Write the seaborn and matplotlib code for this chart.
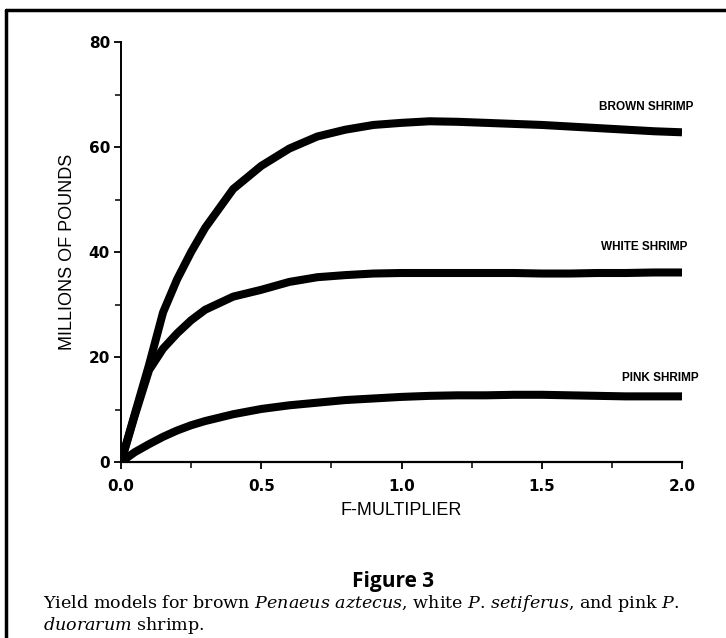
import numpy as np
import pandas as pd
import matplotlib
matplotlib.use("Agg")
import matplotlib.pyplot as plt
from matplotlib.lines import Line2D
from matplotlib.ticker import MultipleLocator, FormatStrFormatter
import seaborn as sns

# F-multiplier and yields (millions of pounds)
f_mult = [0.0, 0.05, 0.1, 0.15, 0.2, 0.25, 0.3, 0.4, 0.5, 0.6, 0.7, 0.8,
          0.9, 1.0, 1.1, 1.2, 1.3, 1.4, 1.5, 1.6, 1.7, 1.8, 1.9, 2.0]
brown = [0.0, 9.3, 18.5, 28.5, 34.8, 40.0, 44.6, 52.0, 56.4, 59.7, 62.0, 63.3,
         64.2, 64.6, 64.9, 64.8, 64.6, 64.4, 64.2, 63.9, 63.6, 63.3, 63.0, 62.8]
white = [0.0, 9.0, 17.5, 21.6, 24.5, 27.0, 29.0, 31.5, 32.8, 34.3, 35.2, 35.6,
         35.9, 36.0, 36.0, 36.0, 36.0, 36.0, 35.9, 35.9, 36.0, 36.0, 36.1, 36.1]
pink = [0.0, 1.9, 3.4, 4.8, 6.0, 7.0, 7.8, 9.1, 10.1, 10.8, 11.3, 11.8,
        12.1, 12.4, 12.6, 12.7, 12.7, 12.8, 12.8, 12.7, 12.6, 12.5, 12.5, 12.5]

labels = ["BROWN SHRIMP", "WHITE SHRIMP", "PINK SHRIMP"]

sns.set_style("ticks")
plt.rcParams["font.family"] = ["Liberation Sans", "DejaVu Sans"]
plt.rcParams["text.color"] = "black"
plt.rcParams["axes.labelcolor"] = "black"
plt.rcParams["xtick.color"] = "black"
plt.rcParams["ytick.color"] = "black"
plt.rcParams["axes.edgecolor"] = "black"
plt.rcParams["mathtext.fontset"] = "custom"
plt.rcParams["mathtext.rm"] = "DejaVu Serif"
plt.rcParams["mathtext.it"] = "DejaVu Serif:italic"

fig = plt.figure(figsize=(7.26, 6.38), dpi=100)
ax = fig.add_axes([121 / 726, 1 - 462 / 638, (682 - 121) / 726, (462 - 42) / 638])

df = pd.DataFrame({"F": f_mult, "brown": brown, "white": white, "pink": pink})
for col in ["brown", "white", "pink"]:
    sns.lineplot(data=df, x="F", y=col, ax=ax, color="black", linewidth=5.8,
                 solid_capstyle="butt", solid_joinstyle="round")

# curve labels
ax.text(2.04, 67.6, labels[0], ha="right", va="center", fontsize=8.5, fontweight="bold")
ax.text(2.02, 41.0, labels[1], ha="right", va="center", fontsize=8.5, fontweight="bold")
ax.text(2.06, 16.0, labels[2], ha="right", va="center", fontsize=8.5, fontweight="bold")

ax.set_xlim(0, 2.0)
ax.set_ylim(0, 80)
ax.xaxis.set_major_locator(MultipleLocator(0.5))
ax.xaxis.set_minor_locator(MultipleLocator(0.25))
ax.yaxis.set_major_locator(MultipleLocator(20))
ax.yaxis.set_minor_locator(MultipleLocator(10))
ax.xaxis.set_major_formatter(FormatStrFormatter("%.1f"))
ax.tick_params(axis="both", which="major", length=5, width=1.3, labelsize=11)
ax.tick_params(axis="x", which="major", pad=7)
ax.tick_params(axis="y", which="major", pad=3)
ax.tick_params(axis="both", which="minor", length=4, width=1.1)
for lab in ax.get_xticklabels() + ax.get_yticklabels():
    lab.set_fontweight("bold")
    lab.set_family(["DejaVu Sans"])
sns.despine(ax=ax)
ax.spines["left"].set_linewidth(1.4)
ax.spines["bottom"].set_linewidth(1.6)

ax.set_xlabel("F-MULTIPLIER", fontsize=13, labelpad=6)
ax.set_ylabel("MILLIONS OF POUNDS", fontsize=13, labelpad=9)

# page frame (top and left rules)
fig.add_artist(Line2D([6 / 726, 1.0], [1 - 10 / 638, 1 - 10 / 638], color="black", linewidth=2.5))
fig.add_artist(Line2D([6 / 726, 6 / 726], [0.0, 1 - 10 / 638], color="black", linewidth=2.5))

fig.text(393 / 726, 1 - 582 / 638, "Figure 3", ha="center", va="center",
         fontsize=15, fontweight="bold", family=["Open Sans", "DejaVu Sans"])
fig.text(43 / 726, 1 - 603 / 638,
         r"Yield models for brown $Penaeus\ aztecus$, white $P$. $setiferus$, and pink $P$.",
         ha="left", va="center", fontsize=12.6, family=["DejaVu Serif"])
fig.text(43 / 726, 1 - 626 / 638, r"$duorarum$ shrimp.", ha="left", va="center",
         fontsize=12.6, family=["DejaVu Serif"])

fig.savefig("out.png", dpi=100)
